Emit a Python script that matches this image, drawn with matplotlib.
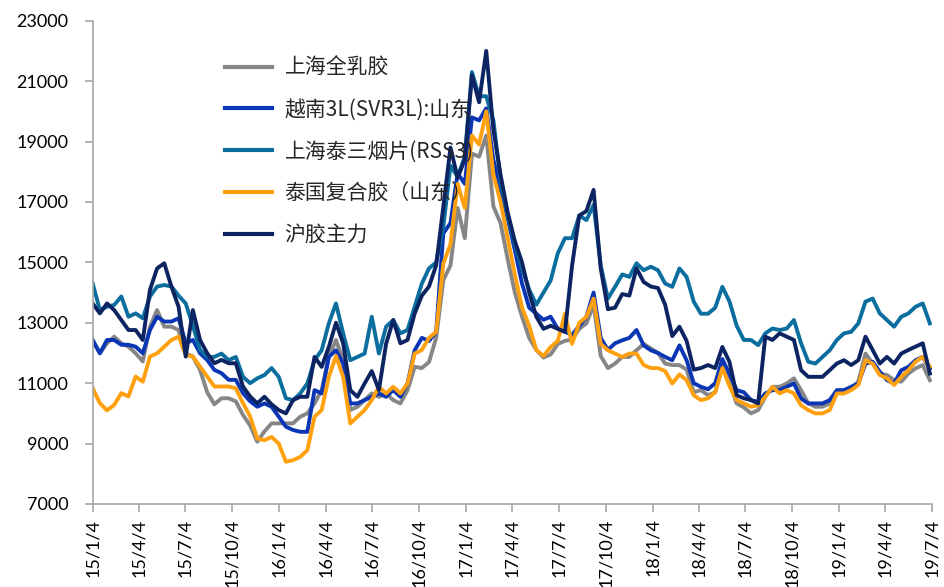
import matplotlib
matplotlib.use('Agg')
import matplotlib.pyplot as plt
import pandas as pd

# values, one point every 14 days from 2015-01-04
# 上海全乳胶
quanru = [12400, 11990, 12320, 12540, 12320, 12210, 11990, 11720, 12870, 13420,
          12870, 12870, 12760, 11990, 11880, 11440, 10700, 10300, 10500, 10500,
          10400, 9950, 9600,
          9060, 9400, 9670, 9670, 9670, 9670, 9890, 10000, 10330, 10770,
          11870, 12430, 11760, 10110, 10220, 10440, 10660, 10550, 10660, 10440,
          10330, 10770, 11540, 11500,
          11700, 12500, 14410, 14900, 16800, 15800, 18600, 18500, 19200, 16850,
          16300, 15100, 14000, 13200, 12500, 12100, 11850, 11950, 12300,
          12400, 12450, 12800, 12980, 13600, 11900, 11500, 11650, 11870, 11870,
          12090, 12300, 12150, 12000, 11650, 11600, 11600, 11450, 10700,
          10770, 10600, 10700, 11600, 11000, 10330, 10200,
          10000, 10110, 10550, 10880, 10880, 10990, 11160, 10770, 10330, 10220,
          10220, 10330, 10660, 10770, 10830, 11050, 11980, 11650, 11320, 11270,
          11100, 11050, 11320, 11490, 11600, 11100]

# 越南3L(SVR3L):山东
svr3l = [12430, 11990, 12430, 12430, 12270, 12270, 12210, 11990, 12760, 13200,
         13040, 13040, 13150, 12320, 12430, 11990, 11770, 11440, 11330, 11110,
         11110, 10670, 10400,
         10220, 10330, 10220, 9890, 9560, 9450, 9390, 9390, 10770, 10660,
         11870, 12090, 11650, 10330, 10330, 10440, 10550, 10660, 10550, 10770,
         10550, 10990, 12090, 12500,
         12400, 12700, 15960, 16300, 17950, 17600, 19800, 19700, 20100, 18400,
         17400, 16450, 15400, 14300, 13500, 13300, 13100, 13200, 12800,
         12700, 12600, 12900, 13200, 14000, 12500, 12100, 12320, 12420, 12500,
         12760, 12250, 12090, 12000, 11870, 11760, 12250, 11760, 11000,
         10880, 10800, 11000, 11800, 11300, 10770, 10700,
         10440, 10380, 10660, 10770, 10770, 10880, 10990, 10490, 10330, 10330,
         10330, 10440, 10770, 10770, 10880, 10990, 11650, 11710, 11380, 11100,
         10990, 11430, 11540, 11760, 11870, 11490]

# 上海泰三烟片(RSS3)
rss3 = [14300, 13420, 13530, 13590, 13870, 13200, 13310, 13150, 13870, 14200,
        14250, 14200, 13900, 13640, 12900, 12100, 11870, 11870, 11980, 11760,
        11870, 11210, 11000,
        11160, 11270, 11500, 11210, 10500, 10440, 10660, 10990, 11760, 12090,
        12980, 13640, 12650, 11760, 11870, 11980, 13200, 11980, 12870, 13090,
        12650, 12760, 13530, 14300,
        14800, 15000, 16180, 18200, 17830, 18500, 21300, 20500, 20500, 19700,
        17700, 16550, 15600, 14800, 14100, 13600, 14000, 14400, 15300,
        15800, 15800, 16550, 16400, 16900, 14900, 13800, 14190, 14600, 14520,
        14970, 14740, 14855, 14740, 14300, 14190, 14800, 14520, 13700,
        13300, 13300, 13500, 14190, 13700, 12900, 12430,
        12430, 12260, 12650, 12810, 12760, 12810, 13090, 12320, 11710, 11650,
        11870, 12090, 12430, 12650, 12700, 12980, 13700, 13800, 13310, 13090,
        12870, 13200, 13310, 13530, 13640, 12980]

# 泰国复合胶（山东）
fuhe = [10830, 10340, 10100, 10280, 10670, 10560, 11220, 11050, 11880, 11990,
        12210, 12430, 12540, 11940, 11880, 11550, 11220, 10890, 10890, 10890,
        10830, 10340, 9900,
        9170, 9110, 9220, 9000, 8400, 8450, 8560, 8780, 9890, 10110,
        11210, 11900, 11210, 9670, 9890, 10110, 10440, 10880, 10660, 10880,
        10660, 10990, 11980, 12100,
        12500, 12700, 14960, 15600, 17600, 16800, 19200, 18900, 20000, 17900,
        17000, 15800, 14600, 13500, 12900, 12100, 11900, 12200, 12400,
        13300, 12300, 13000, 13200, 13800, 12300, 12090, 11980, 11870, 11980,
        11980, 11600, 11500, 11500, 11400, 10990, 11290, 11100, 10600,
        10440, 10500, 10700, 11500, 10900, 10440, 10330,
        10220, 10270, 10550, 10880, 10660, 10770, 10660, 10270, 10110, 10000,
        10000, 10110, 10660, 10660, 10770, 10940, 11760, 11650, 11270, 11160,
        10940, 11210, 11430, 11710, 11870, 11540]

# 沪胶主力
hujiao = [13640, 13310, 13640, 13420, 13090, 12760, 12760, 12430, 14090, 14800,
          14970, 14200, 13530, 11880, 13420, 12430, 11990, 11660, 11770, 11660,
          11660, 10890, 10560,
          10330, 10550, 10300, 10110, 10000, 10440, 10550, 10550, 11870, 11540,
          12200, 13000, 12320, 10770, 10550, 10990, 11400, 10770, 12300, 13090,
          12320, 12430, 13310, 13900,
          14200, 14900, 16840, 18800, 17800, 18400, 21200, 20300, 22000, 19400,
          17900, 16650, 15700, 15000, 14000, 13200, 12800, 12900, 12800,
          12700, 14900, 16550, 16700, 17400, 14800, 13450, 13500, 13950, 13900,
          14800, 14350, 14200, 14150, 13600, 12560, 12870, 12400, 11450,
          11500, 11600, 11500, 12200, 11700, 10600, 10500,
          10440, 10330, 12540, 12430, 12650, 12540, 12430, 11430, 11210, 11210,
          11210, 11430, 11650, 11760, 11600, 11760, 12540, 12100, 11650, 11870,
          11650, 11980, 12100, 12210, 12320, 11320]

labels = ['上海全乳胶', '越南3L(SVR3L):山东', '上海泰三烟片(RSS3)', '泰国复合胶（山东）', '沪胶主力']
colors = ['#868686', '#0A36B6', '#0B6E9F', '#FFA00F', '#0C2462']
# quarterly ticks: 15/1/4, 15/4/4, ... 19/7/4
tick_dates = pd.date_range('2015-01-01', '2019-07-01', freq='QS') + pd.Timedelta(days=3)

dates = pd.date_range('2015-01-04', periods=len(quanru), freq='14D')

fig = plt.figure(figsize=(9.44, 5.87), dpi=100)
ax = fig.add_axes([0.0982, 0.1414, 0.889, 0.8233])

for vals, lab, col in zip([quanru, svr3l, rss3, fuhe, hujiao], labels, colors):
    ax.plot(dates, vals, color=col, lw=2.8, label=lab, solid_joinstyle='round')

ax.set_xlim(pd.Timestamp('2015-01-04'), pd.Timestamp('2019-07-04'))
ax.set_ylim(7000, 23000)
ax.set_yticks(range(7000, 23001, 2000))
ax.set_xticks(tick_dates)
ax.set_xticklabels([f'{d.year % 100}/{d.month}/{d.day}' for d in tick_dates],
                   rotation=90, family='Lato', fontsize=13)
for t in ax.get_yticklabels():
    t.set_family('Lato')
    t.set_fontsize(13)

for s in ['top', 'right']:
    ax.spines[s].set_visible(False)
for s in ['left', 'bottom']:
    ax.spines[s].set_color('#A6A6A6')
    ax.spines[s].set_linewidth(1.2)
ax.tick_params(axis='y', length=5.5, width=1.2, color='#A6A6A6', pad=12)
ax.tick_params(axis='x', length=5.5, width=1.2, color='#A6A6A6', pad=5)

leg = ax.legend(loc='upper left', bbox_to_anchor=(0.158, 0.925), frameon=False,
                borderpad=0, borderaxespad=0, handlelength=2.25, handletextpad=0.6,
                labelspacing=0.95,
                prop={'family': ['Noto Sans CJK SC', 'DejaVu Sans'], 'size': 15})
for line in leg.get_lines():
    line.set_linewidth(3)
for t in leg.get_texts():
    t.set_color('#262626')

fig.savefig('out.png', dpi=100)
